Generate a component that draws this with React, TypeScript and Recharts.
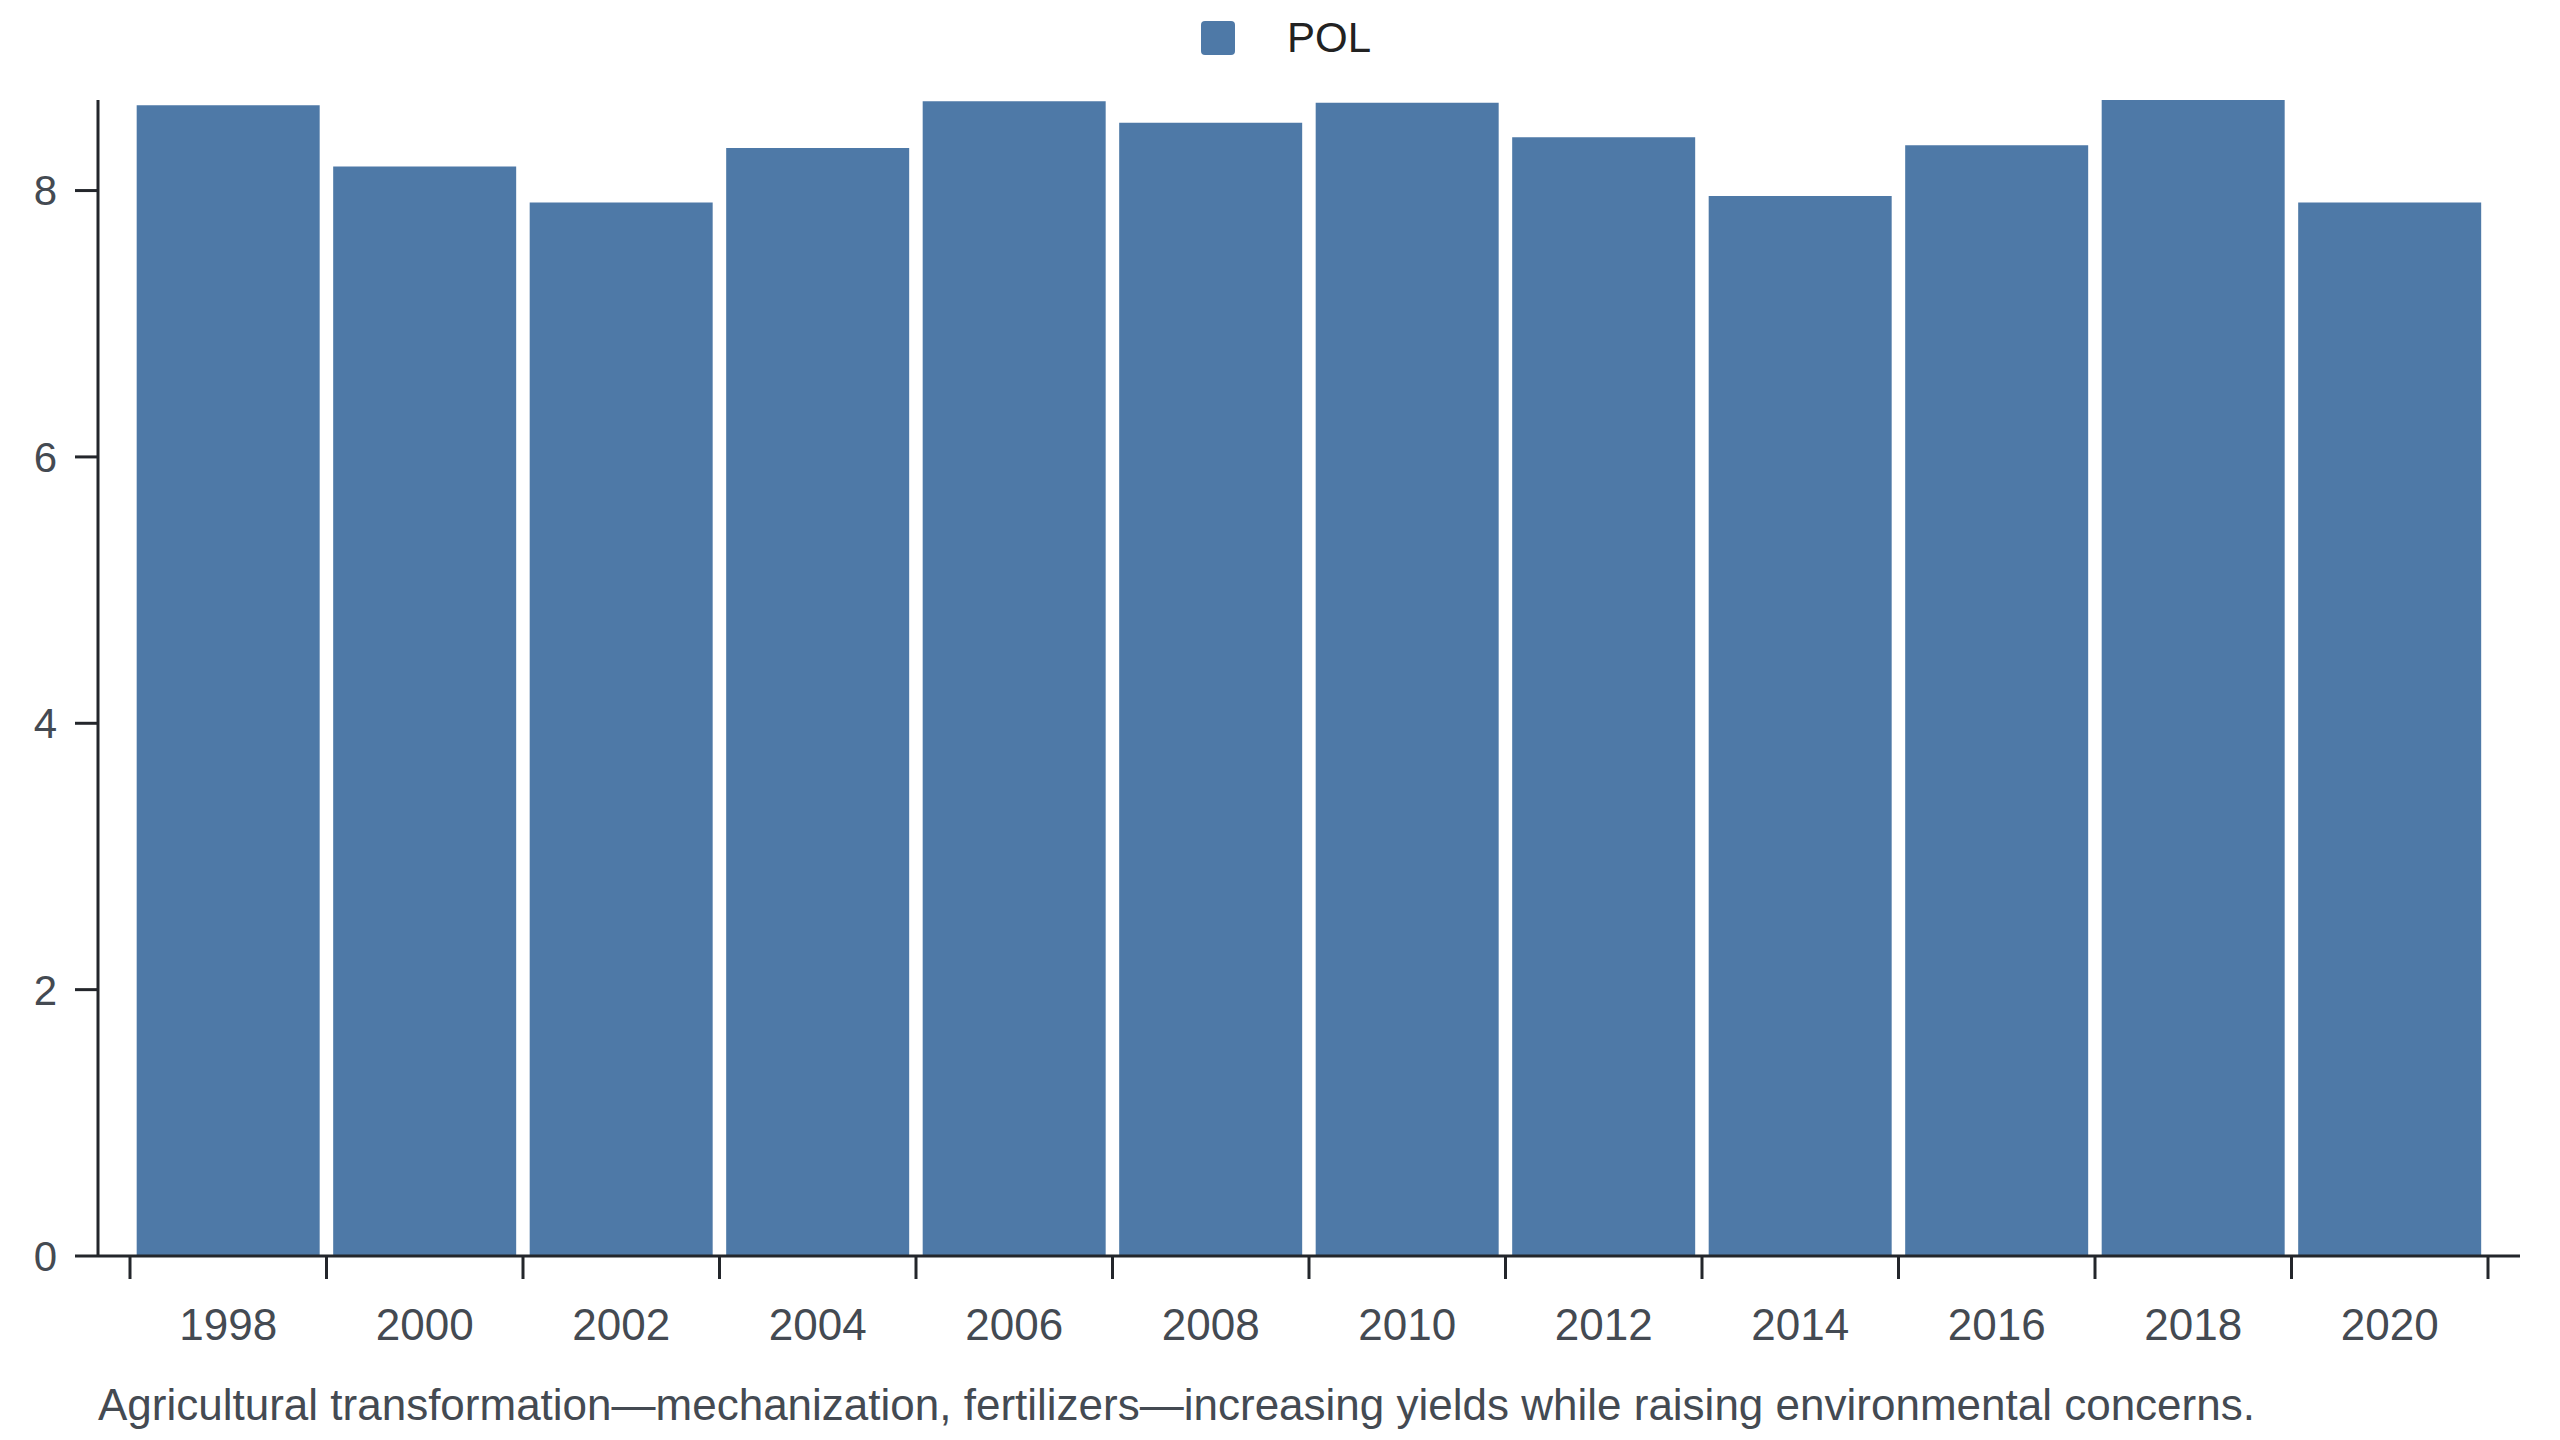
import React from "react";
import { BarChart, Bar, XAxis, YAxis, Legend } from "recharts";

const YEARS = ["1998", "2000", "2002", "2004", "2006", "2008", "2010", "2012", "2014", "2016", "2018", "2020"];
const POL = [8.64, 8.18, 7.91, 8.32, 8.67, 8.51, 8.66, 8.40, 7.96, 8.34, 8.68, 7.91];
const Y_TICKS = [0, 2, 4, 6, 8];
const SERIES_NAME = "POL";
const CAPTION = "Agricultural transformation\u2014mechanization, fertilizers\u2014increasing yields while raising environmental concerns.";

const data = YEARS.map((year, i) => ({ year, POL: POL[i] }));

const W = 2560;
const H = 1440;
const MARGIN = { top: 0, right: 40, bottom: 0, left: 0 };
const Y_AXIS_W = 98;
const X_PAD = 32;
const X_TICK_SIZE = 23;
const X_TICK_MARGIN = 30;
const BAND = (W - MARGIN.right - MARGIN.left - Y_AXIS_W - 2 * X_PAD) / YEARS.length;
const FONT = "'Liberation Sans', Arial, Helvetica, sans-serif";
const AXIS_COLOR = "#23262b";
const TEXT_COLOR = "#444a52";
const BAR_COLOR = "#4e79a7";

const XTick = (props: any) => {
  const { x, y, payload, index } = props;
  const axisY = y - X_TICK_SIZE - X_TICK_MARGIN;
  const left = x - BAND / 2;
  const right = x + BAND / 2;
  return (
    <g>
      <line x1={left} x2={left} y1={axisY} y2={axisY + X_TICK_SIZE} stroke={AXIS_COLOR} strokeWidth={3} />
      {index === YEARS.length - 1 && (
        <line x1={right} x2={right} y1={axisY} y2={axisY + X_TICK_SIZE} stroke={AXIS_COLOR} strokeWidth={3} />
      )}
      <text x={x} y={y} dy="0.71em" textAnchor="middle" fill={TEXT_COLOR} fontSize={44} fontFamily={FONT}>
        {payload.value}
      </text>
    </g>
  );
};

const LegendContent = () => (
  <div
    style={{
      width: "100%",
      height: 100,
      display: "flex",
      justifyContent: "center",
      alignItems: "flex-start",
      paddingTop: 21,
      paddingLeft: 12,
      boxSizing: "border-box",
      fontFamily: FONT,
    }}
  >
    <span style={{ width: 34, height: 34, background: BAR_COLOR, borderRadius: 4, display: "inline-block" }} />
    <span style={{ marginLeft: 52, fontSize: 42, lineHeight: "34px", color: "#222" }}>{SERIES_NAME}</span>
  </div>
);

export default function App() {
  return (
    <div style={{ position: "absolute", left: 0, top: 0, width: W, height: H, background: "#fff" }}>
      <BarChart width={W} height={H} data={data} margin={MARGIN} barCategoryGap="3.4%">
        <Legend
          verticalAlign="top"
          align="center"
          content={<LegendContent />}
          wrapperStyle={{ top: 0, left: 0, width: W, height: 100 }}
        />
        <XAxis
          dataKey="year"
          padding={{ left: X_PAD, right: X_PAD }}
          height={184}
          interval={0}
          tickSize={X_TICK_SIZE}
          tickMargin={X_TICK_MARGIN}
          tickLine={false}
          tick={<XTick />}
          axisLine={{ stroke: AXIS_COLOR, strokeWidth: 3 }}
        />
        <YAxis
          width={Y_AXIS_W}
          domain={[0, "dataMax"]}
          ticks={Y_TICKS}
          tickSize={23}
          tickMargin={18}
          axisLine={{ stroke: AXIS_COLOR, strokeWidth: 3 }}
          tickLine={{ stroke: AXIS_COLOR, strokeWidth: 3 }}
          tick={{ fill: TEXT_COLOR, fontSize: 42, fontFamily: FONT }}
        />
        <Bar dataKey="POL" name={SERIES_NAME} fill={BAR_COLOR} isAnimationActive={false} />
      </BarChart>
      <div
        style={{
          position: "absolute",
          left: 98,
          top: 1383,
          fontSize: 44,
          lineHeight: "44px",
          fontFamily: FONT,
          color: TEXT_COLOR,
          whiteSpace: "nowrap",
        }}
      >
        {CAPTION}
      </div>
    </div>
  );
}
